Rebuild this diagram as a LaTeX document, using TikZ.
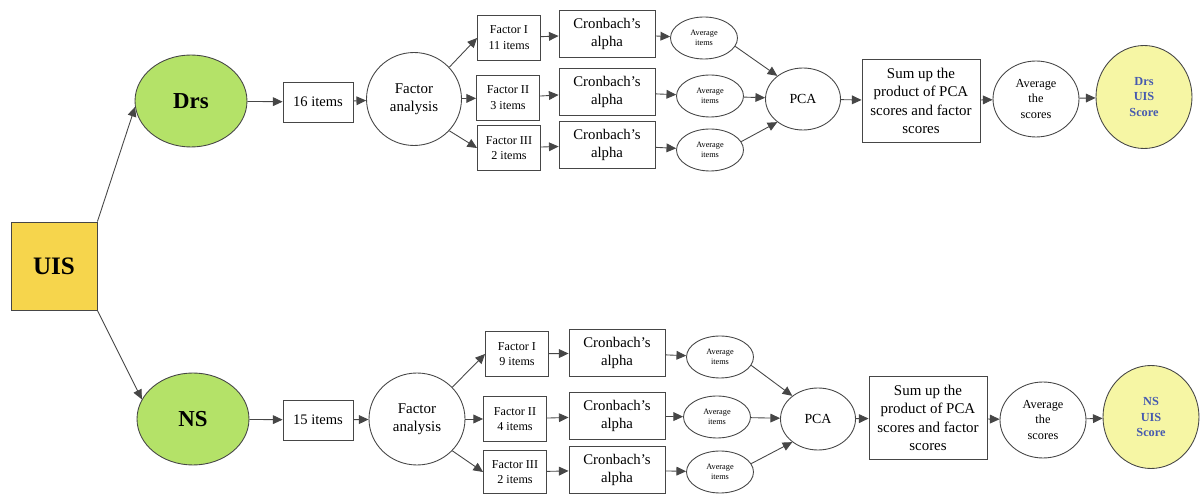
\documentclass[tikz,border=0pt]{standalone}
\usepackage{fontspec}
\setmainfont{Liberation Serif}
\usetikzlibrary{shapes.geometric,arrows.meta}
\definecolor{uisY}{RGB}{246,213,76}
\definecolor{grpG}{RGB}{180,226,104}
\definecolor{scoreY}{RGB}{246,246,164}
\definecolor{scoreT}{RGB}{70,90,175}
\definecolor{lineC}{RGB}{70,70,70}
\begin{document}
\begin{tikzpicture}[x=0.02cm,y=-0.02cm,
  ln/.style={draw=lineC, line width=0.5pt},
  arr/.style={draw=lineC, line width=0.5pt, -{Triangle[length=5.5pt,width=5pt]}},
  box/.style={rectangle, ln, inner sep=0pt, align=center},
  ell/.style={ellipse, ln, inner sep=0pt, align=center},
  uisbox/.style={box, fill=uisY, minimum width=1.72cm, minimum height=1.76cm, font=\fontsize{14.3}{16}\selectfont\bfseries},
  grp/.style={ell, fill=grpG, minimum width=2.24cm, minimum height=1.84cm, font=\fontsize{13}{15}\selectfont\bfseries},
  itembox/.style={box, minimum width=1.4cm, minimum height=0.8cm, font=\fontsize{8.3}{10}\selectfont},
  fa/.style={ell, minimum width=1.9cm, minimum height=1.86cm, font=\fontsize{8.5}{10.4}\selectfont},
  fbox/.style={box, minimum width=1.26cm, minimum height=0.9cm, font=\fontsize{6.9}{9}\selectfont},
  cbox/.style={box, minimum width=1.92cm, minimum height=0.94cm, font=\fontsize{8.4}{10.2}\selectfont},
  avgi/.style={ell, minimum width=1.34cm, minimum height=0.84cm, font=\fontsize{4.7}{5.7}\selectfont},
  pca/.style={ell, minimum width=1.5cm, minimum height=1.24cm, font=\fontsize{7.9}{9.5}\selectfont},
  sumbox/.style={box, minimum width=2.36cm, minimum height=1.66cm, font=\fontsize{8.5}{10.4}\selectfont},
  avgs/.style={ell, minimum width=1.72cm, minimum height=1.52cm, font=\fontsize{7}{8.8}\selectfont},
  score/.style={ell, fill=scoreY, minimum width=1.92cm, minimum height=2.06cm, text=scoreT, font=\fontsize{7}{9}\selectfont\bfseries}
]
\useasboundingbox (0,0) rectangle (1201,496);

\node[uisbox] (uis) at (54,266) {UIS};

% ---- Drs branch ----
\node[grp] (drs) at (191,101) {Drs};
\node[itembox] (i16) at (318,102) {16 items};
\node[fa] (fa1) at (414,99) {Factor\\analysis};
\node[fbox] (f11) at (509,38) {Factor I\\11 items};
\node[fbox] (f12) at (508,98) {Factor II\\3 items};
\node[fbox] (f13) at (509,148) {Factor III\\2 items};
\node[cbox] (c11) at (607,34) {Cronbach's\\alpha};
\node[cbox] (c12) at (607,92) {Cronbach's\\alpha};
\node[cbox] (c13) at (607,145) {Cronbach's\\alpha};
\node[avgi] (a11) at (704,38) {Average\\items};
\node[avgi] (a12) at (710,96) {Average\\items};
\node[avgi] (a13) at (710,150) {Average\\items};
\node[pca] (pca1) at (803,99) {PCA};
\node[sumbox] (sum1) at (921,101) {Sum up the\\product of PCA\\scores and factor\\scores};
\node[avgs] (as1) at (1036,99) {Average\\the\\scores};
\node[score] (sc1) at (1144,97) {Drs\\UIS\\Score};

% ---- NS branch ----
\node[grp] (ns) at (193,419) {NS};
\node[itembox] (i15) at (318,420) {15 items};
\node[fa, minimum width=1.92cm, minimum height=1.84cm] (fa2) at (417,419) {Factor\\analysis};
\node[fbox] (f21) at (517,354) {Factor I\\9 items};
\node[fbox] (f22) at (515,419) {Factor II\\4 items};
\node[fbox, minimum height=0.86cm] (f23) at (515,472) {Factor III\\2 items};
\node[cbox] (c21) at (617,353) {Cronbach's\\alpha};
\node[cbox] (c22) at (617,416) {Cronbach's\\alpha};
\node[cbox] (c23) at (617,470) {Cronbach's\\alpha};
\node[avgi] (a21) at (720,357) {Average\\items};
\node[avgi] (a22) at (717,417) {Average\\items};
\node[avgi] (a23) at (720,472) {Average\\items};
\node[pca] (pca2) at (818,419) {PCA};
\node[sumbox] (sum2) at (928,418) {Sum up the\\product of PCA\\scores and factor\\scores};
\node[avgs] (as2) at (1043,420) {Average\\the\\scores};
\node[score] (sc2) at (1151,417) {NS\\UIS\\Score};

% ---- connectors ----
\draw[arr] (uis.north east) -- (drs.186);
\draw[arr] (uis.south east) -- (ns.159);

\draw[arr] (drs) -- (i16);
\draw[arr] (i16) -- (fa1);
\draw[arr] (fa1.42) -- (f11.west);
\draw[arr] (fa1) -- (f12);
\draw[arr] (fa1.-42) -- (f13.west);
\draw[arr] (f11) -- (c11);
\draw[arr] (f12) -- (c12);
\draw[arr] (f13) -- (c13);
\draw[arr] (c11) -- (a11);
\draw[arr] (c12) -- (a12);
\draw[arr] (c13) -- (a13);
\draw[arr] (a11.-15) -- (pca1.138);
\draw[arr] (a12) -- (pca1);
\draw[arr] (a13.15) -- (pca1.-138);
\draw[arr] (pca1) -- (sum1);
\draw[arr] (sum1) -- (as1);
\draw[arr] (as1) -- (sc1);

\draw[arr] (ns) -- (i15);
\draw[arr] (i15) -- (fa2);
\draw[arr] (fa2.42) -- (f21.west);
\draw[arr] (fa2) -- (f22);
\draw[arr] (fa2.-42) -- (f23.west);
\draw[arr] (f21) -- (c21);
\draw[arr] (f22) -- (c22);
\draw[arr] (f23) -- (c23);
\draw[arr] (c21) -- (a21);
\draw[arr] (c22) -- (a22);
\draw[arr] (c23) -- (a23);
\draw[arr] (a21.-15) -- (pca2.138);
\draw[arr] (a22) -- (pca2);
\draw[arr] (a23.15) -- (pca2.-138);
\draw[arr] (pca2) -- (sum2);
\draw[arr] (sum2) -- (as2);
\draw[arr] (as2) -- (sc2);
\end{tikzpicture}
\end{document}
